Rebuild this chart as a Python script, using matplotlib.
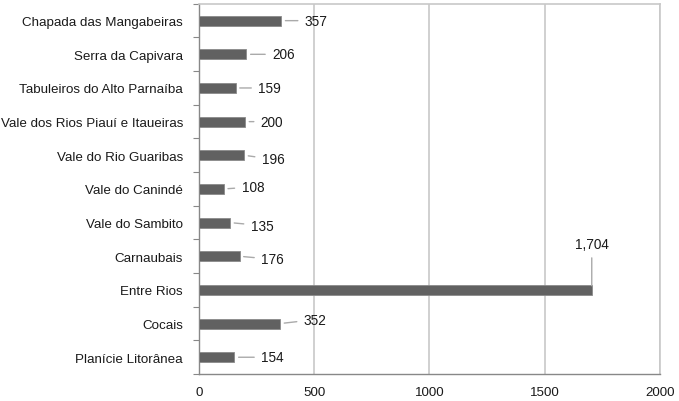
import matplotlib
matplotlib.use('Agg')
import matplotlib.pyplot as plt
import numpy as np

plt.rcParams['font.family'] = ['Liberation Sans', 'DejaVu Sans']

regions = ['Chapada das Mangabeiras', 'Serra da Capivara', 'Tabuleiros do Alto Parnaíba',
           'Vale dos Rios Piauí e Itaueiras', 'Vale do Rio Guaribas', 'Vale do Canindé',
           'Vale do Sambito', 'Carnaubais', 'Entre Rios', 'Cocais', 'Planície Litorânea']
values = [357, 206, 159, 200, 196, 108, 135, 176, 1704, 352, 154]
value_labels = ['357', '206', '159', '200', '196', '108', '135', '176', '1,704', '352', '154']
x_ticks = [0, 500, 1000, 1500, 2000]

# label offsets in pixels (dx right, dy down) from the bar end
offsets = [(35, 0), (37, 0), (34, 0), (27, 0), (29, 4), (29, -2),
           (32, 3), (33, 3), (0, -46), (35, -4), (38, 0)]

fig = plt.figure(figsize=(6.79, 4.02), dpi=100)
ax = fig.add_axes([0.293, 0.067, 0.679, 0.921])

y = np.arange(len(regions))
ax.barh(y, values, height=0.3, color='#616161', edgecolor='#8a8a8a', linewidth=0.6, zorder=3)

for yi, v, lab, (dx, dy) in zip(y, values, value_labels, offsets):
    ax.annotate(lab, xy=(v, yi), xytext=(dx * 0.72, -dy * 0.72), textcoords='offset points',
                ha='center', va='center', fontsize=9.8, color='#1a1a1a',
                arrowprops=dict(arrowstyle='-', color='#aaaaaa', lw=1.0,
                                shrinkA=3, shrinkB=3))

ax.set_xlim(0, 2000)
ax.set_ylim(len(regions) - 0.5, -0.5)
ax.set_xticks(x_ticks)
ax.set_xticklabels([str(t) for t in x_ticks])
ax.set_yticks(y)
ax.set_yticklabels(regions)
ax.set_yticks(np.arange(len(regions) + 1) - 0.5, minor=True)

ax.tick_params(axis='y', which='major', length=0, pad=11.5, labelsize=9.6, labelcolor='#1a1a1a')
ax.tick_params(axis='y', which='minor', length=4.5, color='#888888', width=0.8)
ax.tick_params(axis='x', length=0, pad=8.5, labelsize=9.6, labelcolor='#1a1a1a')

ax.grid(axis='x', color='#c8c8c8', lw=1.2, zorder=0)
ax.set_axisbelow(True)
for side in ['top', 'right']:
    ax.spines[side].set_color('#c8c8c8')
    ax.spines[side].set_linewidth(1.2)
for side in ['left', 'bottom']:
    ax.spines[side].set_color('#888888')
    ax.spines[side].set_linewidth(1.0)

plt.savefig('out.png', dpi=100)
plt.close()
